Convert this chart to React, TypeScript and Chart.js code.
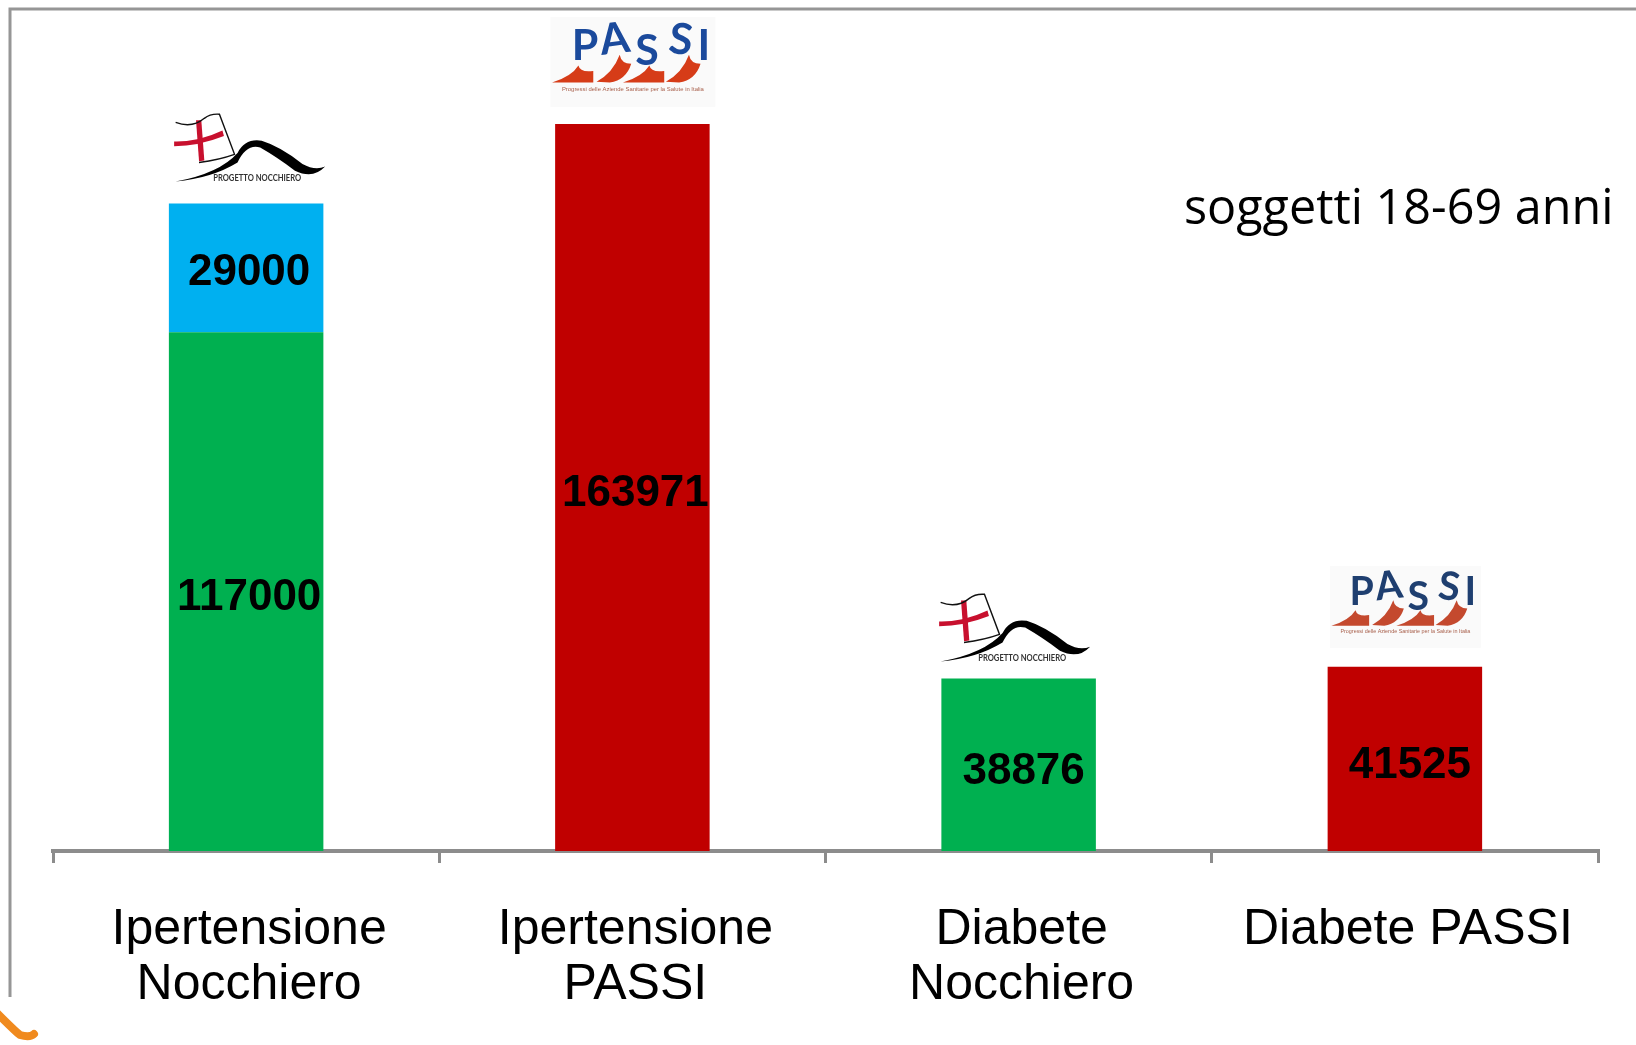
import React, { useEffect, useRef } from "react";
import { Chart, registerables } from "chart.js";

Chart.register(...registerables);

const categories = [
  ["Ipertensione", "Nocchiero"],
  ["Ipertensione", "PASSI"],
  ["Diabete", "Nocchiero"],
  "Diabete PASSI",
];
const nocchieroBase = [117000, null, 38876, null];
const nocchieroExtra = [29000, null, null, null];
const passiValues = [null, 163971, null, 41525];
const note = "soggetti 18-69 anni";

const SANS = '"Liberation Sans", Arial, sans-serif';
const GREY = "#8c8c8c";

// label nudges relative to the centre of each segment: [dataset, index, dx, dy]
const labelNudges: [number, number, number, number][] = [
  [0, 0, 3, 6],
  [1, 0, 3, 5],
  [2, 1, 3, 6],
  [0, 2, 5, 7],
  [2, 3, 5, 7],
];

function drawNocchiero(ctx: CanvasRenderingContext2D, x: number, y: number) {
  const w = 151;
  const h = 68;
  const X = (u: number) => x + u * w;
  const Y = (v: number) => y + v * h;
  ctx.save();
  // cross
  ctx.fillStyle = "#c8102e";
  ctx.beginPath();
  ctx.moveTo(X(0), Y(0.41));
  ctx.quadraticCurveTo(X(0.16), Y(0.42), X(0.32), Y(0.25));
  ctx.lineTo(X(0.33), Y(0.33));
  ctx.quadraticCurveTo(X(0.16), Y(0.48), X(0), Y(0.48));
  ctx.closePath();
  ctx.fill();
  ctx.beginPath();
  ctx.moveTo(X(0.145), Y(0.1));
  ctx.lineTo(X(0.18), Y(0.1));
  ctx.lineTo(X(0.2), Y(0.69));
  ctx.lineTo(X(0.165), Y(0.7));
  ctx.closePath();
  ctx.fill();
  // flag outline
  ctx.strokeStyle = "#111";
  ctx.lineWidth = 1.4;
  ctx.beginPath();
  ctx.moveTo(X(0.01), Y(0.13));
  ctx.quadraticCurveTo(X(0.12), Y(0.22), X(0.2), Y(0.07));
  ctx.quadraticCurveTo(X(0.24), Y(0.0), X(0.3), Y(0.01));
  ctx.lineTo(X(0.4), Y(0.6));
  ctx.quadraticCurveTo(X(0.3), Y(0.68), X(0.165), Y(0.72));
  ctx.stroke();
  // swoosh
  ctx.fillStyle = "#000";
  ctx.beginPath();
  ctx.moveTo(X(0.01), Y(1));
  ctx.quadraticCurveTo(X(0.3), Y(0.88), X(0.42), Y(0.58));
  ctx.quadraticCurveTo(X(0.47), Y(0.36), X(0.58), Y(0.4));
  ctx.quadraticCurveTo(X(0.7), Y(0.48), X(0.85), Y(0.74));
  ctx.quadraticCurveTo(X(0.93), Y(0.84), X(1), Y(0.78));
  ctx.quadraticCurveTo(X(0.92), Y(0.97), X(0.8), Y(0.84));
  ctx.quadraticCurveTo(X(0.68), Y(0.64), X(0.57), Y(0.5));
  ctx.quadraticCurveTo(X(0.48), Y(0.44), X(0.42), Y(0.72));
  ctx.quadraticCurveTo(X(0.25), Y(0.95), X(0.01), Y(1));
  ctx.closePath();
  ctx.fill();
  // caption
  ctx.fillStyle = "#333";
  ctx.font = `bold 9px Lato, ${SANS}`;
  ctx.textAlign = "center";
  ctx.textBaseline = "middle";
  ctx.fillText("PROGETTO NOCCHIERO", X(0.55), Y(0.95), 88);
  ctx.restore();
}

function drawPassi(
  ctx: CanvasRenderingContext2D,
  x: number,
  y: number,
  w: number,
  h: number,
  blue: string,
  red: string
) {
  const X = (u: number) => x + u * w;
  const Y = (v: number) => y + v * h;
  ctx.save();
  ctx.fillStyle = "#fafafa";
  ctx.fillRect(x, y, w, h);

  const letters: [string, number, number, number][] = [
    ["P", 0.21, 0.32, 0],
    ["A", 0.39, 0.25, -0.12],
    ["S", 0.585, 0.38, 0],
    ["S", 0.79, 0.26, 0.12],
    ["I", 0.93, 0.32, 0],
  ];
  ctx.fillStyle = blue;
  ctx.font = `bold ${w * 0.26}px Lato, ${SANS}`;
  ctx.textAlign = "center";
  ctx.textBaseline = "middle";
  letters.forEach(([ch, u, v, rot]) => {
    ctx.save();
    ctx.translate(X(u), Y(v));
    ctx.rotate(rot);
    ctx.fillText(ch, 0, 0);
    ctx.restore();
  });

  ctx.fillStyle = red;
  const shoes: [number, boolean][] = [
    [0.01, false],
    [0.28, true],
    [0.44, false],
    [0.7, true],
  ];
  shoes.forEach(([u0, tall]) => {
    ctx.beginPath();
    if (tall) {
      ctx.moveTo(X(u0), Y(0.72));
      ctx.quadraticCurveTo(X(u0 + 0.1), Y(0.62), X(u0 + 0.14), Y(0.42));
      ctx.quadraticCurveTo(X(u0 + 0.15), Y(0.52), X(u0 + 0.21), Y(0.52));
      ctx.quadraticCurveTo(X(u0 + 0.18), Y(0.7), X(u0 + 0.08), Y(0.73));
    } else {
      ctx.moveTo(X(u0), Y(0.73));
      ctx.quadraticCurveTo(X(u0 + 0.12), Y(0.66), X(u0 + 0.16), Y(0.54));
      ctx.quadraticCurveTo(X(u0 + 0.17), Y(0.62), X(u0 + 0.25), Y(0.6));
      ctx.lineTo(X(u0 + 0.25), Y(0.73));
    }
    ctx.closePath();
    ctx.fill();
  });

  ctx.fillStyle = "#a8604c";
  ctx.font = `${w * 0.036}px ${SANS}`;
  ctx.fillText(
    "Progressi delle Aziende Sanitarie per la Salute in Italia",
    X(0.5),
    Y(0.8),
    w * 0.86
  );
  ctx.restore();
}

const decorations = {
  id: "decorations",
  beforeDraw(chart: any) {
    const { ctx } = chart;
    ctx.save();
    ctx.fillStyle = "#fff";
    ctx.fillRect(0, 0, chart.width, chart.height);
    ctx.strokeStyle = "#969696";
    ctx.lineWidth = 3;
    ctx.beginPath();
    ctx.moveTo(1636, 9);
    ctx.lineTo(10, 9);
    ctx.lineTo(10, 997);
    ctx.stroke();
    ctx.strokeStyle = "#f08a1e";
    ctx.lineWidth = 8;
    ctx.lineCap = "round";
    ctx.beginPath();
    ctx.moveTo(-2, 1014);
    ctx.quadraticCurveTo(14, 1030, 20, 1035);
    ctx.quadraticCurveTo(30, 1038, 34, 1034);
    ctx.stroke();
    ctx.restore();
  },
  afterDraw(chart: any) {
    const { ctx } = chart;
    ctx.save();
    ctx.fillStyle = "#000";
    ctx.font = `bold 44px ${SANS}`;
    ctx.textAlign = "center";
    ctx.textBaseline = "middle";
    labelNudges.forEach(([ds, i, dx, dy]) => {
      const el: any = chart.getDatasetMeta(ds).data[i];
      const value = chart.data.datasets[ds].data[i];
      ctx.fillText(String(value), el.x + dx, (el.y + el.base) / 2 + dy);
    });

    ctx.font = `48.5px "Open Sans", ${SANS}`;
    ctx.textAlign = "left";
    ctx.fillText(note, 1184, 210, 430);
    ctx.restore();

    const top1: any = chart.getDatasetMeta(1).data[0];
    const top2: any = chart.getDatasetMeta(2).data[1];
    const top3: any = chart.getDatasetMeta(0).data[2];
    const top4: any = chart.getDatasetMeta(2).data[3];
    drawNocchiero(ctx, top1.x - 72, top1.y - 90);
    drawPassi(ctx, top2.x - 82, top2.y - 107, 165, 90, "#1b4a9c", "#d63c18");
    drawNocchiero(ctx, top3.x - 79.5, top3.y - 85);
    drawPassi(ctx, top4.x - 75, top4.y - 101, 151, 82, "#1f3f70", "#c4492e");
  },
};

export default function App() {
  const ref = useRef<HTMLCanvasElement | null>(null);

  useEffect(() => {
    const chart = new Chart(ref.current as HTMLCanvasElement, {
      type: "bar",
      data: {
        labels: categories as any,
        datasets: [
          { label: "Nocchiero", data: nocchieroBase, backgroundColor: "#00B050" },
          { label: "Nocchiero extra", data: nocchieroExtra, backgroundColor: "#00B0F0" },
          { label: "PASSI", data: passiValues, backgroundColor: "#C00000" },
        ],
      },
      options: {
        animation: false,
        responsive: false,
        devicePixelRatio: 1,
        barPercentage: 0.4,
        categoryPercentage: 1,
        layout: { padding: { left: 53, right: 38, top: 52.8, bottom: 0 } },
        plugins: { legend: { display: false }, tooltip: { enabled: false } },
        scales: {
          x: {
            stacked: true,
            z: 1,
            afterFit(scale: any) {
              scale.height = 194;
            },
            border: { display: true, color: GREY, width: 4 },
            grid: {
              drawOnChartArea: false,
              drawTicks: true,
              tickLength: 12,
              color: GREY,
              lineWidth: 3,
            },
            ticks: {
              color: "#000",
              padding: 40,
              autoSkip: false,
              maxRotation: 0,
              minRotation: 0,
              labelOffset: 3,
              font: { family: SANS, size: 50, lineHeight: 1.1 },
            },
          },
          y: { display: false, stacked: true, min: 0, max: 180000 },
        },
      } as any,
      plugins: [decorations],
    });
    return () => chart.destroy();
  }, []);

  return (
    <div style={{ position: "fixed", left: 0, top: 0, width: 1636, height: 1045 }}>
      <canvas ref={ref} width={1636} height={1045} style={{ display: "block" }} />
    </div>
  );
}
